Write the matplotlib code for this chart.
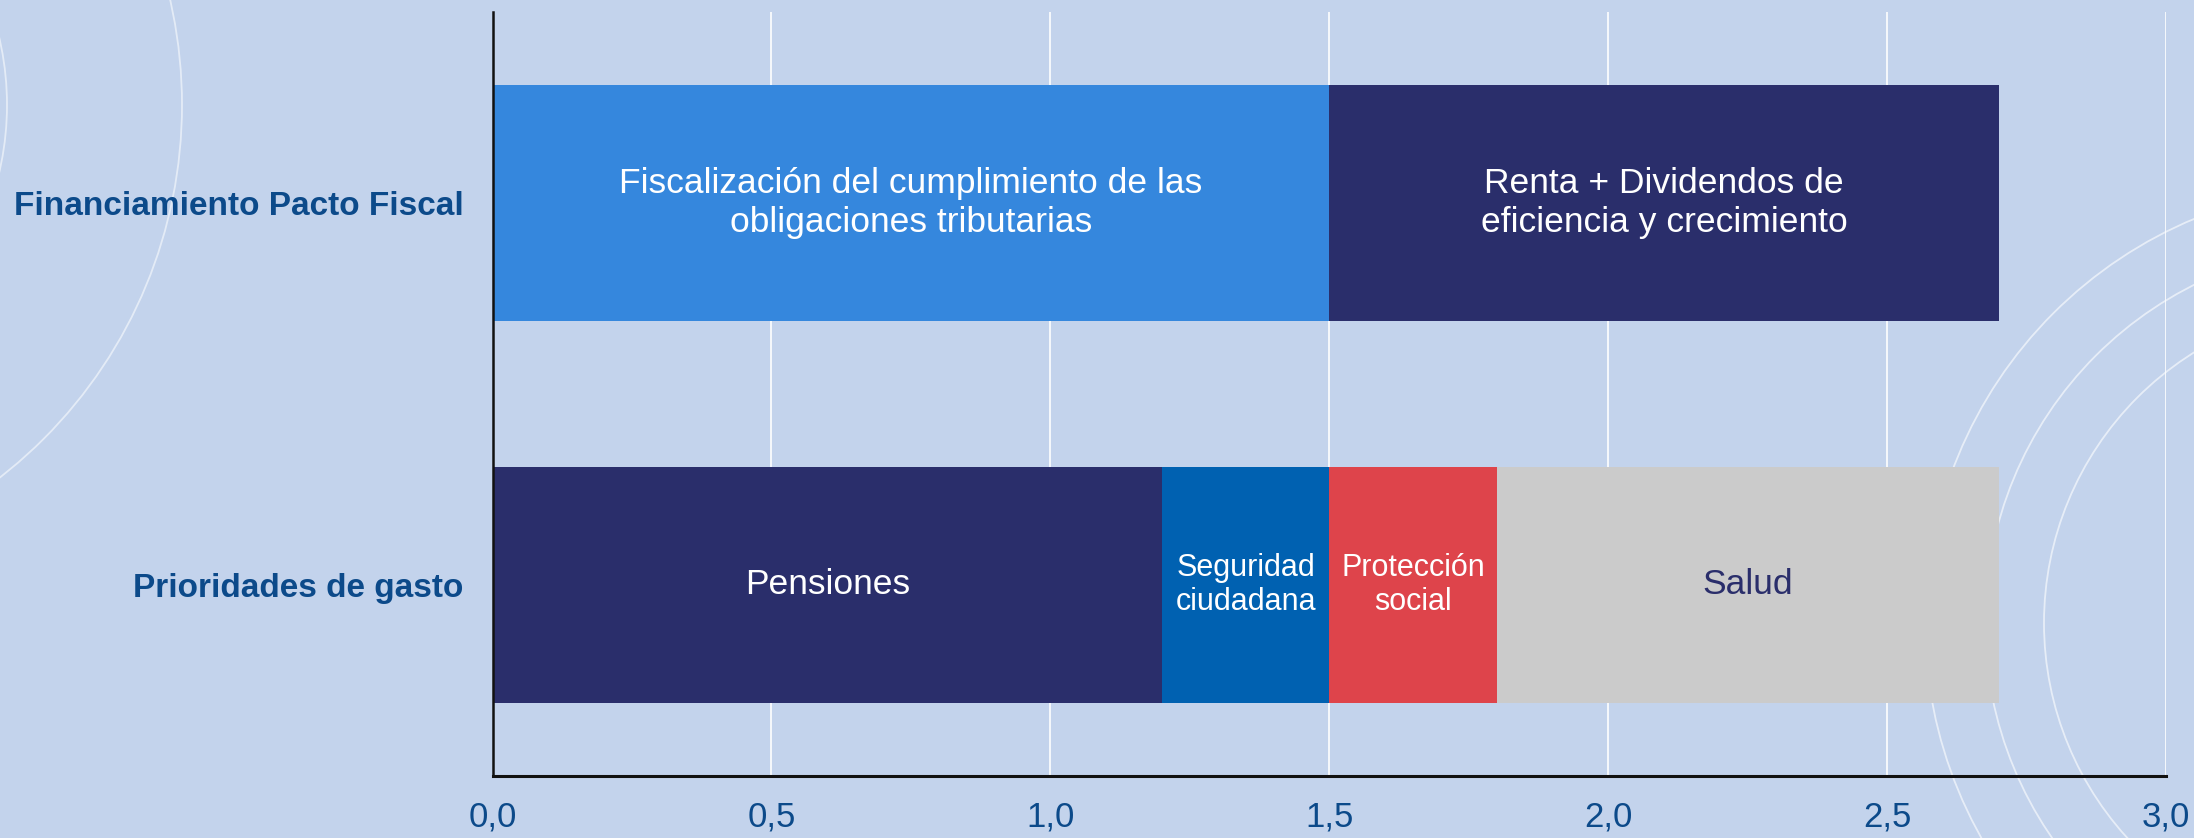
import numpy as np
import matplotlib
matplotlib.use("Agg")
import matplotlib.pyplot as plt
from matplotlib.patches import Circle

plt.rcParams['font.family'] = ['Liberation Sans', 'DejaVu Sans']

# data
categories = ["Prioridades de gasto", "Financiamiento Pacto Fiscal"]
fin_labels = ["Fiscalización del cumplimiento de las\nobligaciones tributarias",
              "Renta + Dividendos de\neficiencia y crecimiento"]
fin_values = [1.5, 1.2]
gasto_labels = ["Pensiones", "Seguridad\nciudadana", "Protección\nsocial", "Salud"]
gasto_values = [1.2, 0.3, 0.3, 0.9]
xticks = [0.0, 0.5, 1.0, 1.5, 2.0, 2.5, 3.0]
xtick_labels = ["0,0", "0,5", "1,0", "1,5", "2,0", "2,5", "3,0"]

# styles
bg_color = "#C3D3EC"
navy = "#2A2E6B"
fin_colors = ["#3587DD", navy]
fin_text = ["white", "white"]
fin_sizes = [25.5, 25.5]
gasto_colors = [navy, "#0061B1", "#DE444B", "#CBCBCB"]
gasto_text = ["white", "white", "white", navy]
gasto_sizes = [25.5, 22, 22, 25.5]
label_blue = "#0C4A8A"

fig = plt.figure(figsize=(21.94, 8.38), dpi=100, facecolor=bg_color)

# decorative circles in the background (pixel coords)
bg = fig.add_axes([0, 0, 1, 1], zorder=0)
bg.set_xlim(0, 2194)
bg.set_ylim(838, 0)
bg.axis("off")
for r in [297, 472]:
    bg.add_patch(Circle((-290, 105), r, fill=False, ec="white", lw=1.3, alpha=0.55))
for r in [319, 378, 438]:
    bg.add_patch(Circle((2363, 623), r, fill=False, ec="white", lw=1.3, alpha=0.6))

ax = fig.add_axes([0.2245, 0.074, 0.9872 - 0.2245, 0.9857 - 0.074], zorder=1)
ax.set_facecolor("none")

h = 0.62
ypos = np.arange(len(categories))

left = 0
for val, lab, col, tc, fs in zip(fin_values, fin_labels, fin_colors, fin_text, fin_sizes):
    ax.barh(ypos[1], val, left=left, height=h, color=col, zorder=2)
    ax.text(left + val / 2, ypos[1], lab, ha="center", va="center",
            color=tc, fontsize=fs, linespacing=1.22, zorder=3)
    left += val

left = 0
for val, lab, col, tc, fs in zip(gasto_values, gasto_labels, gasto_colors, gasto_text, gasto_sizes):
    ax.barh(ypos[0], val, left=left, height=h, color=col, zorder=2)
    ax.text(left + val / 2, ypos[0], lab, ha="center", va="center",
            color=tc, fontsize=fs, linespacing=1.19, zorder=3)
    left += val

ax.set_xlim(0, 3.0)
ax.set_ylim(-0.5, 1.5)
ax.set_xticks(xticks)
ax.set_xticklabels(xtick_labels, fontsize=25, color=label_blue)
ax.set_yticks(ypos)
ax.set_yticklabels(categories, fontsize=24, fontweight="bold", color=label_blue)
ax.tick_params(axis="x", length=0, pad=18)
ax.tick_params(axis="y", length=0, pad=21)

ax.grid(axis="x", color="white", lw=1.2, zorder=1)
ax.set_axisbelow(True)
for s in ["top", "right"]:
    ax.spines[s].set_visible(False)
ax.spines["left"].set_color("#111111")
ax.spines["left"].set_linewidth(1.8)
ax.spines["bottom"].set_color("#111111")
ax.spines["bottom"].set_linewidth(2.2)
ax.spines["left"].set_zorder(4)
ax.spines["bottom"].set_zorder(4)

fig.savefig("out.png", dpi=100, facecolor=bg_color)
